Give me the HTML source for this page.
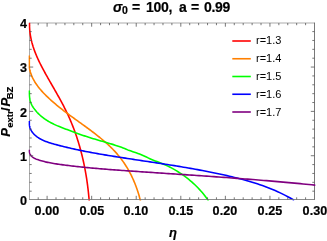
<!DOCTYPE html>
<html><head><meta charset="utf-8"><title>chart</title><style>
html,body{margin:0;padding:0;background:#fff;}
body{width:327px;height:241px;position:relative;overflow:hidden;font-family:"Liberation Sans",sans-serif;color:#000;}
.t{position:absolute;white-space:nowrap;line-height:1;will-change:transform;}
.b,.xt,.yt{font-weight:bold;-webkit-text-stroke:0.2px #000;}
.xt{font-size:12.6px;font-weight:bold;transform:translateX(-50%);top:205px;letter-spacing:0.1px;}
.yt{font-size:12.6px;font-weight:bold;right:300.0px;}
.lg{font-size:11px;left:256.4px;}
sub{font-size:70%;vertical-align:baseline;position:relative;top:0.25em;line-height:0;}
</style></head><body>
<svg width="327" height="241" viewBox="0 0 327 241" style="position:absolute;left:0;top:0">
<defs><clipPath id="c"><rect x="28.30" y="22.40" width="287.00" height="178.20"/></clipPath></defs>
<g stroke="#555555" fill="none">
<path d="M29.50,22.70V199.90" stroke-width="0.5"/>
<path d="M314.50,22.70V199.90" stroke-width="0.8"/>
<path d="M29.20,23.00H314.90" stroke-width="0.5"/>
</g>
<g clip-path="url(#c)" fill="none" stroke-width="1.6" stroke-linejoin="round">
<path d="M29.49,22.80 L29.49,22.86 L29.49,22.98 L29.49,23.14 L29.48,23.34 L29.48,23.58 L29.48,23.84 L29.48,24.13 L29.48,24.44 L29.48,24.78 L29.48,25.14 L29.49,25.53 L29.50,25.93 L29.51,26.35 L29.53,26.80 L29.55,27.26 L29.57,27.74 L29.60,28.23 L29.63,28.75 L29.67,29.28 L29.71,29.82 L29.76,30.38 L29.81,30.96 L29.87,31.55 L29.94,32.15 L30.02,32.76 L30.10,33.39 L30.19,34.04 L30.29,34.69 L30.39,35.36 L30.51,36.04 L30.63,36.73 L30.76,37.43 L30.90,38.14 L31.05,38.86 L31.21,39.60 L31.38,40.34 L31.56,41.10 L31.75,41.86 L31.95,42.64 L32.17,43.42 L32.39,44.21 L32.62,45.01 L32.87,45.83 L33.12,46.65 L33.39,47.47 L33.67,48.31 L33.96,49.16 L34.26,50.01 L34.58,50.87 L34.90,51.74 L35.24,52.62 L35.59,53.51 L35.95,54.40 L36.33,55.30 L36.71,56.21 L37.11,57.12 L37.52,58.05 L37.94,58.98 L38.37,59.91 L38.82,60.86 L39.27,61.81 L39.74,62.77 L40.22,63.74 L40.70,64.71 L41.20,65.69 L41.71,66.68 L42.23,67.68 L42.76,68.68 L43.30,69.69 L43.85,70.71 L44.41,71.73 L44.98,72.76 L45.56,73.80 L46.14,74.85 L46.73,75.90 L47.33,76.96 L47.94,78.03 L48.55,79.11 L49.17,80.20 L49.80,81.29 L50.43,82.39 L51.07,83.50 L51.71,84.62 L52.35,85.74 L53.00,86.88 L53.66,88.02 L54.32,89.17 L54.98,90.33 L55.65,91.50 L56.31,92.67 L56.98,93.86 L57.66,95.05 L58.33,96.26 L59.00,97.47 L59.68,98.69 L60.35,99.93 L61.03,101.17 L61.70,102.42 L62.37,103.68 L63.04,104.95 L63.71,106.24 L64.37,107.53 L65.03,108.84 L65.69,110.15 L66.34,111.48 L66.99,112.82 L67.62,114.17 L68.26,115.53 L68.88,116.90 L69.50,118.29 L70.11,119.68 L70.71,121.09 L71.31,122.51 L71.90,123.95 L72.48,125.39 L73.05,126.85 L73.61,128.32 L74.17,129.79 L74.72,131.28 L75.26,132.79 L75.79,134.30 L76.31,135.82 L76.83,137.36 L77.34,138.91 L77.83,140.47 L78.32,142.04 L78.80,143.62 L79.27,145.21 L79.74,146.81 L80.19,148.42 L80.63,150.05 L81.07,151.68 L81.49,153.33 L81.91,154.98 L82.31,156.65 L82.71,158.33 L83.10,160.01 L83.48,161.71 L83.84,163.42 L84.20,165.13 L84.55,166.86 L84.89,168.60 L85.22,170.34 L85.53,172.10 L85.84,173.87 L86.14,175.64 L86.43,177.42 L86.71,179.22 L86.98,181.02 L87.23,182.83 L87.48,184.65 L87.72,186.48 L87.95,188.31 L88.16,190.16 L88.37,192.01 L88.57,193.87 L88.75,195.74 L88.93,197.62 L89.09,199.50 L89.24,201.10" stroke="#ff0000"/>
<path d="M29.30,55.60 L29.30,55.66 L29.30,55.78 L29.30,55.95 L29.30,56.15 L29.30,56.39 L29.30,56.66 L29.30,56.96 L29.30,57.28 L29.30,57.62 L29.30,57.99 L29.30,58.38 L29.30,58.79 L29.30,59.23 L29.30,59.68 L29.30,60.14 L29.30,60.63 L29.30,61.13 L29.30,61.65 L29.30,62.19 L29.30,62.74 L29.30,63.30 L29.30,63.88 L29.30,64.47 L29.30,65.08 L29.30,65.69 L29.30,66.32 L29.30,66.96 L29.33,67.61 L29.45,68.28 L29.58,68.95 L29.73,69.63 L29.89,70.32 L30.08,71.02 L30.27,71.72 L30.49,72.44 L30.72,73.16 L30.97,73.89 L31.24,74.62 L31.53,75.37 L31.84,76.11 L32.17,76.86 L32.51,77.62 L32.88,78.38 L33.27,79.15 L33.68,79.91 L34.11,80.68 L34.56,81.46 L35.03,82.23 L35.52,83.01 L36.04,83.79 L36.57,84.57 L37.12,85.35 L37.70,86.13 L38.30,86.92 L38.91,87.70 L39.55,88.49 L40.20,89.28 L40.88,90.07 L41.57,90.85 L42.28,91.64 L43.01,92.43 L43.75,93.22 L44.51,94.00 L45.29,94.79 L46.08,95.58 L46.89,96.37 L47.70,97.15 L48.54,97.94 L49.38,98.73 L50.24,99.51 L51.11,100.30 L51.99,101.09 L52.88,101.87 L53.79,102.66 L54.70,103.44 L55.63,104.23 L56.58,105.01 L57.53,105.80 L58.49,106.58 L59.47,107.37 L60.46,108.15 L61.46,108.94 L62.47,109.73 L63.49,110.52 L64.52,111.31 L65.56,112.10 L66.62,112.89 L67.68,113.69 L68.75,114.48 L69.83,115.28 L70.93,116.08 L72.03,116.88 L73.14,117.69 L74.26,118.50 L75.38,119.31 L76.52,120.13 L77.66,120.95 L78.82,121.78 L79.97,122.61 L81.14,123.45 L82.31,124.30 L83.49,125.15 L84.68,126.00 L85.87,126.87 L87.06,127.74 L88.26,128.62 L89.47,129.51 L90.68,130.41 L91.89,131.32 L93.11,132.24 L94.33,133.17 L95.55,134.11 L96.77,135.06 L97.99,136.03 L99.21,137.00 L100.43,138.00 L101.64,139.00 L102.86,140.02 L104.07,141.06 L105.27,142.11 L106.47,143.18 L107.67,144.26 L108.85,145.36 L110.03,146.49 L111.19,147.63 L112.35,148.79 L113.50,149.97 L114.63,151.17 L115.75,152.39 L116.85,153.64 L117.94,154.91 L119.02,156.21 L120.07,157.52 L121.11,158.87 L122.12,160.24 L123.12,161.63 L124.10,163.05 L125.06,164.49 L126.00,165.96 L126.92,167.45 L127.82,168.96 L128.69,170.49 L129.55,172.05 L130.38,173.63 L131.19,175.22 L131.98,176.84 L132.75,178.48 L133.50,180.14 L134.22,181.81 L134.92,183.51 L135.59,185.22 L136.24,186.95 L136.87,188.70 L137.47,190.46 L138.05,192.24 L138.60,194.04 L139.13,195.84 L139.63,197.67 L140.10,199.50 L140.51,201.05" stroke="#ff8000"/>
<path d="M29.30,90.50 L29.30,90.57 L29.30,90.70 L29.30,90.88 L29.30,91.11 L29.30,91.37 L29.30,91.66 L29.30,91.99 L29.30,92.34 L29.30,92.73 L29.30,93.14 L29.31,93.57 L29.33,94.03 L29.35,94.51 L29.37,95.02 L29.41,95.54 L29.45,96.09 L29.51,96.66 L29.57,97.24 L29.65,97.84 L29.75,98.46 L29.86,99.09 L29.99,99.74 L30.14,100.40 L30.32,101.07 L30.52,101.75 L30.75,102.45 L31.01,103.15 L31.30,103.85 L31.63,104.57 L32.00,105.28 L32.40,106.00 L32.83,106.72 L33.29,107.45 L33.78,108.17 L34.30,108.89 L34.83,109.61 L35.40,110.33 L35.99,111.04 L36.60,111.75 L37.24,112.46 L37.91,113.16 L38.60,113.85 L39.32,114.54 L40.06,115.22 L40.83,115.90 L41.63,116.56 L42.45,117.22 L43.30,117.87 L44.17,118.52 L45.06,119.15 L45.98,119.77 L46.93,120.38 L47.89,120.98 L48.88,121.57 L49.89,122.15 L50.93,122.72 L51.98,123.27 L53.06,123.82 L54.15,124.35 L55.26,124.87 L56.39,125.38 L57.53,125.88 L58.69,126.36 L59.87,126.83 L61.05,127.30 L62.25,127.76 L63.47,128.22 L64.69,128.68 L65.92,129.15 L67.17,129.62 L68.42,130.10 L69.68,130.58 L70.96,131.07 L72.24,131.56 L73.54,132.05 L74.86,132.54 L76.18,133.02 L77.52,133.51 L78.88,133.99 L80.25,134.46 L81.63,134.94 L83.03,135.41 L84.44,135.88 L85.87,136.34 L87.31,136.81 L88.76,137.27 L90.22,137.73 L91.70,138.18 L93.19,138.64 L94.69,139.09 L96.20,139.54 L97.73,140.00 L99.26,140.45 L100.81,140.90 L102.37,141.35 L103.94,141.80 L105.51,142.25 L107.10,142.71 L108.69,143.18 L110.28,143.65 L111.88,144.13 L113.48,144.63 L115.08,145.14 L116.69,145.66 L118.29,146.20 L119.89,146.76 L121.48,147.35 L123.07,147.95 L124.65,148.59 L126.23,149.24 L127.82,149.88 L129.45,150.49 L131.10,151.08 L132.78,151.66 L134.47,152.24 L136.17,152.83 L137.88,153.44 L139.59,154.08 L141.30,154.77 L143.00,155.51 L144.70,156.28 L146.41,157.07 L148.12,157.87 L149.85,158.66 L151.60,159.44 L153.36,160.18 L155.16,160.90 L156.97,161.59 L158.79,162.28 L160.61,162.98 L162.43,163.70 L164.25,164.46 L166.06,165.26 L167.85,166.11 L169.64,166.99 L171.42,167.91 L173.18,168.87 L174.94,169.87 L176.68,170.91 L178.41,171.99 L180.13,173.10 L181.83,174.25 L183.52,175.44 L185.20,176.67 L186.86,177.93 L188.50,179.22 L190.13,180.56 L191.73,181.93 L193.31,183.33 L194.87,184.78 L196.41,186.26 L197.91,187.78 L199.39,189.34 L200.84,190.94 L202.26,192.57 L203.65,194.25 L205.01,195.96 L206.32,197.71 L207.60,199.50 L208.55,200.79" stroke="#00ff00"/>
<path d="M29.30,121.10 L29.30,121.20 L29.30,121.40 L29.30,121.66 L29.30,121.99 L29.30,122.37 L29.30,122.79 L29.30,123.24 L29.30,123.74 L29.30,124.26 L29.33,124.81 L29.41,125.38 L29.52,125.97 L29.66,126.58 L29.83,127.20 L30.03,127.84 L30.26,128.49 L30.54,129.14 L30.85,129.80 L31.20,130.46 L31.60,131.13 L32.03,131.79 L32.51,132.45 L33.04,133.10 L33.60,133.75 L34.21,134.38 L34.86,135.01 L35.55,135.63 L36.29,136.23 L37.06,136.82 L37.86,137.39 L38.71,137.95 L39.60,138.49 L40.53,139.02 L41.49,139.53 L42.49,140.02 L43.53,140.50 L44.61,140.96 L45.72,141.40 L46.86,141.83 L48.04,142.25 L49.24,142.65 L50.48,143.04 L51.74,143.43 L53.03,143.80 L54.34,144.17 L55.67,144.53 L57.02,144.89 L58.39,145.25 L59.77,145.61 L61.17,145.97 L62.58,146.33 L64.01,146.68 L65.46,147.03 L66.92,147.38 L68.39,147.73 L69.88,148.08 L71.39,148.42 L72.91,148.77 L74.45,149.11 L76.00,149.45 L77.57,149.78 L79.15,150.11 L80.74,150.45 L82.36,150.77 L83.98,151.10 L85.62,151.43 L87.28,151.75 L88.95,152.07 L90.63,152.38 L92.33,152.70 L94.04,153.01 L95.77,153.33 L97.51,153.63 L99.27,153.94 L101.04,154.25 L102.83,154.55 L104.63,154.86 L106.44,155.16 L108.27,155.46 L110.11,155.76 L111.97,156.06 L113.85,156.36 L115.73,156.66 L117.64,156.96 L119.55,157.26 L121.49,157.56 L123.43,157.86 L125.39,158.16 L127.37,158.47 L129.36,158.77 L131.37,159.07 L133.39,159.38 L135.42,159.69 L137.47,159.99 L139.53,160.30 L141.60,160.62 L143.69,160.93 L145.80,161.25 L147.91,161.57 L150.04,161.89 L152.18,162.21 L154.34,162.54 L156.51,162.87 L158.69,163.20 L160.89,163.54 L163.09,163.88 L165.31,164.22 L167.54,164.57 L169.79,164.93 L172.05,165.29 L174.31,165.65 L176.59,166.02 L178.89,166.40 L181.19,166.78 L183.51,167.17 L185.83,167.56 L188.17,167.96 L190.52,168.37 L192.88,168.79 L195.24,169.21 L197.62,169.65 L200.02,170.09 L202.42,170.54 L204.83,171.00 L207.25,171.47 L209.68,171.95 L212.11,172.44 L214.56,172.94 L217.02,173.46 L219.49,173.98 L221.96,174.52 L224.44,175.07 L226.93,175.63 L229.43,176.21 L231.94,176.80 L234.45,177.41 L236.98,178.04 L239.50,178.68 L242.03,179.35 L244.57,180.04 L247.11,180.75 L249.65,181.49 L252.20,182.25 L254.75,183.04 L257.30,183.86 L259.85,184.71 L262.41,185.60 L264.96,186.52 L267.51,187.48 L270.06,188.48 L272.61,189.51 L275.15,190.59 L277.69,191.72 L280.22,192.89 L282.75,194.10 L285.28,195.37 L287.79,196.69 L290.30,198.07 L292.80,199.50 L294.19,200.29" stroke="#0000ff"/>
<path d="M29.30,149.70 L29.30,149.81 L29.30,150.03 L29.30,150.33 L29.30,150.68 L29.30,151.09 L29.31,151.52 L29.39,151.99 L29.49,152.48 L29.63,152.98 L29.81,153.49 L30.03,154.00 L30.29,154.52 L30.61,155.02 L30.97,155.52 L31.38,156.01 L31.85,156.48 L32.37,156.93 L32.94,157.36 L33.57,157.77 L34.25,158.17 L34.99,158.54 L35.77,158.89 L36.59,159.23 L37.46,159.55 L38.36,159.86 L39.29,160.16 L40.25,160.46 L41.23,160.75 L42.24,161.03 L43.27,161.31 L44.33,161.58 L45.41,161.85 L46.52,162.10 L47.66,162.35 L48.81,162.59 L49.99,162.82 L51.20,163.05 L52.42,163.27 L53.67,163.48 L54.94,163.69 L56.23,163.89 L57.54,164.09 L58.87,164.28 L60.22,164.47 L61.59,164.66 L62.98,164.85 L64.39,165.03 L65.81,165.22 L67.26,165.40 L68.71,165.58 L70.19,165.76 L71.69,165.94 L73.20,166.12 L74.73,166.29 L76.27,166.47 L77.83,166.64 L79.41,166.81 L81.00,166.98 L82.62,167.15 L84.24,167.31 L85.89,167.47 L87.55,167.64 L89.22,167.80 L90.91,167.95 L92.62,168.11 L94.34,168.27 L96.08,168.42 L97.84,168.57 L99.61,168.72 L101.39,168.87 L103.19,169.02 L105.01,169.16 L106.84,169.31 L108.68,169.45 L110.54,169.59 L112.42,169.73 L114.31,169.87 L116.21,170.01 L118.13,170.15 L120.07,170.29 L122.02,170.43 L123.98,170.57 L125.96,170.71 L127.96,170.85 L129.96,170.98 L131.99,171.12 L134.02,171.26 L136.07,171.40 L138.14,171.55 L140.22,171.69 L142.31,171.83 L144.42,171.97 L146.54,172.12 L148.68,172.26 L150.83,172.40 L152.99,172.55 L155.17,172.70 L157.36,172.84 L159.56,172.99 L161.78,173.14 L164.01,173.29 L166.26,173.44 L168.52,173.59 L170.79,173.74 L173.07,173.89 L175.37,174.04 L177.68,174.20 L180.01,174.35 L182.35,174.51 L184.70,174.67 L187.06,174.83 L189.44,174.99 L191.83,175.15 L194.23,175.31 L196.64,175.48 L199.07,175.64 L201.51,175.81 L203.97,175.98 L206.43,176.15 L208.91,176.32 L211.40,176.49 L213.90,176.67 L216.42,176.85 L218.94,177.02 L221.48,177.21 L224.03,177.39 L226.60,177.57 L229.17,177.76 L231.76,177.95 L234.36,178.14 L236.97,178.34 L239.60,178.53 L242.23,178.73 L244.88,178.93 L247.54,179.14 L250.21,179.35 L252.89,179.56 L255.58,179.77 L258.28,179.99 L261.00,180.21 L263.73,180.43 L266.47,180.65 L269.22,180.88 L271.98,181.12 L274.75,181.35 L277.53,181.59 L280.33,181.84 L283.13,182.08 L285.95,182.34 L288.78,182.59 L291.61,182.85 L294.46,183.12 L297.32,183.39 L300.19,183.66 L303.07,183.94 L305.96,184.22 L308.87,184.51 L311.78,184.80 L314.70,185.10 L316.29,185.26" stroke="#800080"/>
</g>
<g stroke="#555555" fill="none">
<path d="M29.20,199.50H314.90" stroke-width="0.85" stroke="#777"/>
<path d="M38.19,199.50v-2.20 M38.19,23.00v2.20 M47.10,199.50v-3.70 M47.10,23.00v3.70 M56.01,199.50v-2.20 M56.01,23.00v2.20 M64.93,199.50v-2.20 M64.93,23.00v2.20 M73.84,199.50v-2.20 M73.84,23.00v2.20 M82.75,199.50v-2.20 M82.75,23.00v2.20 M91.67,199.50v-3.70 M91.67,23.00v3.70 M100.58,199.50v-2.20 M100.58,23.00v2.20 M109.49,199.50v-2.20 M109.49,23.00v2.20 M118.41,199.50v-2.20 M118.41,23.00v2.20 M127.32,199.50v-2.20 M127.32,23.00v2.20 M136.23,199.50v-3.70 M136.23,23.00v3.70 M145.15,199.50v-2.20 M145.15,23.00v2.20 M154.06,199.50v-2.20 M154.06,23.00v2.20 M162.97,199.50v-2.20 M162.97,23.00v2.20 M171.89,199.50v-2.20 M171.89,23.00v2.20 M180.80,199.50v-3.70 M180.80,23.00v3.70 M189.71,199.50v-2.20 M189.71,23.00v2.20 M198.63,199.50v-2.20 M198.63,23.00v2.20 M207.54,199.50v-2.20 M207.54,23.00v2.20 M216.45,199.50v-2.20 M216.45,23.00v2.20 M225.37,199.50v-3.70 M225.37,23.00v3.70 M234.28,199.50v-2.20 M234.28,23.00v2.20 M243.19,199.50v-2.20 M243.19,23.00v2.20 M252.11,199.50v-2.20 M252.11,23.00v2.20 M261.02,199.50v-2.20 M261.02,23.00v2.20 M269.93,199.50v-3.70 M269.93,23.00v3.70 M278.85,199.50v-2.20 M278.85,23.00v2.20 M287.76,199.50v-2.20 M287.76,23.00v2.20 M296.67,199.50v-2.20 M296.67,23.00v2.20 M305.59,199.50v-2.20 M305.59,23.00v2.20 M29.50,191.18h2.20 M314.50,191.18h-2.20 M29.50,182.32h2.20 M314.50,182.32h-2.20 M29.50,173.45h2.20 M314.50,173.45h-2.20 M29.50,164.59h2.20 M314.50,164.59h-2.20 M29.50,155.72h3.70 M314.50,155.72h-3.70 M29.50,146.85h2.20 M314.50,146.85h-2.20 M29.50,137.99h2.20 M314.50,137.99h-2.20 M29.50,129.12h2.20 M314.50,129.12h-2.20 M29.50,120.26h2.20 M314.50,120.26h-2.20 M29.50,111.39h3.70 M314.50,111.39h-3.70 M29.50,102.52h2.20 M314.50,102.52h-2.20 M29.50,93.66h2.20 M314.50,93.66h-2.20 M29.50,84.79h2.20 M314.50,84.79h-2.20 M29.50,75.93h2.20 M314.50,75.93h-2.20 M29.50,67.06h3.70 M314.50,67.06h-3.70 M29.50,58.19h2.20 M314.50,58.19h-2.20 M29.50,49.33h2.20 M314.50,49.33h-2.20 M29.50,40.46h2.20 M314.50,40.46h-2.20 M29.50,31.60h2.20 M314.50,31.60h-2.20" stroke-width="0.8"/>
</g>
<path d="M232.3,41.00H250.8" stroke="#ff0000" stroke-width="1.6" fill="none"/>
<path d="M232.3,58.75H250.8" stroke="#ff8000" stroke-width="1.6" fill="none"/>
<path d="M232.3,76.50H250.8" stroke="#00ff00" stroke-width="1.6" fill="none"/>
<path d="M232.3,94.25H250.8" stroke="#0000ff" stroke-width="1.6" fill="none"/>
<path d="M232.3,112.00H250.8" stroke="#800080" stroke-width="1.6" fill="none"/>
</svg>
<div class="t b" style="font-size:14px;left:112.80px;top:-0.20px;letter-spacing:-0.3px"><i>σ</i></div>
<div class="t b" style="font-size:10.5px;left:122.30px;top:4.90px;letter-spacing:-0.3px">0</div>
<div class="t b" style="font-size:14px;left:132.00px;top:0.10px;letter-spacing:-0.3px">=</div>
<div class="t b" style="font-size:14px;left:146.00px;top:-0.20px;letter-spacing:-0.3px">100,</div>
<div class="t b" style="font-size:14px;left:178.50px;top:-0.20px;letter-spacing:-0.3px">a</div>
<div class="t b" style="font-size:14px;left:191.20px;top:0.10px;letter-spacing:-0.3px">=</div>
<div class="t b" style="font-size:14px;left:203.60px;top:-0.20px;letter-spacing:-0.3px">0.99</div>
<div class="t xt" style="left:47.10px">0.00</div>
<div class="t xt" style="left:91.67px">0.05</div>
<div class="t xt" style="left:136.23px">0.10</div>
<div class="t xt" style="left:180.80px">0.15</div>
<div class="t xt" style="left:225.37px">0.20</div>
<div class="t xt" style="left:269.93px">0.25</div>
<div class="t xt" style="left:314.50px">0.30</div>
<div class="t yt" style="top:194.70px">0</div>
<div class="t yt" style="top:150.70px">1</div>
<div class="t yt" style="top:106.70px">2</div>
<div class="t yt" style="top:61.70px">3</div>
<div class="t yt" style="top:17.70px">4</div>
<div class="t lg" style="top:35px">r=1.3</div>
<div class="t lg" style="top:53px">r=1.4</div>
<div class="t lg" style="top:71px">r=1.5</div>
<div class="t lg" style="top:89px">r=1.6</div>
<div class="t lg" style="top:107px">r=1.7</div>
<div class="t b" style="font-size:13px;left:172.9px;top:226px;transform:translateX(-50%)"><i>η</i></div>
<div style="position:absolute;left:0;top:241px;width:241px;height:20px;transform-origin:0 0;transform:rotate(-90deg);will-change:transform">
<div class="t b" style="will-change:auto;font-size:13px;left:104.30px;top:-1.00px;letter-spacing:0px"><i>P</i></div>
<div class="t b" style="will-change:auto;font-size:9.5px;left:113.20px;top:4.90px;letter-spacing:0px">extr</div>
<div class="t b" style="will-change:auto;font-size:13px;left:129.90px;top:-1.00px;letter-spacing:0px">/</div>
<div class="t b" style="will-change:auto;font-size:13px;left:134.40px;top:-1.30px;letter-spacing:0px"><i>P</i></div>
<div class="t b" style="will-change:auto;font-size:9.5px;left:141.80px;top:4.90px;letter-spacing:-0.1px">BZ</div>
</div>
</body></html>
